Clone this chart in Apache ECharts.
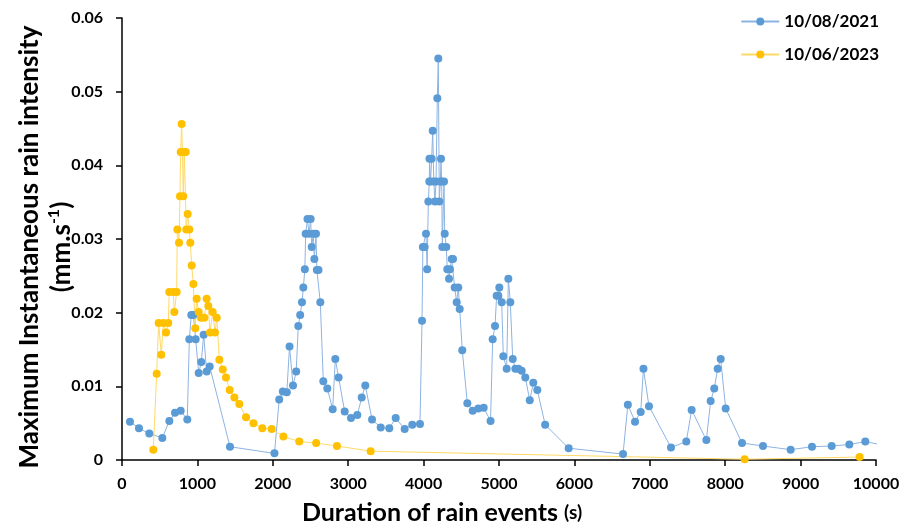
<!DOCTYPE html>
<html>
<head>
<meta charset="utf-8">
<script src="https://cdn.jsdelivr.net/npm/echarts@6/dist/echarts.min.js"></script>
<style>html,body{margin:0;padding:0;background:#fff}#c{width:910px;height:529px}</style>
</head>
<body>
<div id="c"></div>
<script>
const seriesNames = ['10/08/2021', '10/06/2023'];
const xTicks = [0, 1000, 2000, 3000, 4000, 5000, 6000, 7000, 8000, 9000, 10000];
const yTicks = [0, 0.01, 0.02, 0.03, 0.04, 0.05, 0.06];
const series2021 = [[106,0.0052],[225,0.0043],[362,0.0036],[535,0.0030],[628,0.0053],[703,0.0064],[778,0.0067],[866,0.0055],[893,0.0164],[919,0.0197],[946,0.0197],[977,0.0164],[1017,0.0118],[1052,0.0133],[1083,0.0170],[1123,0.0120],[1163,0.0127],[1432,0.0018],[2022,0.0009],[2085,0.0082],[2133,0.0093],[2186,0.0092],[2222,0.0154],[2268,0.0101],[2310,0.0120],[2338,0.0182],[2363,0.0197],[2387,0.0214],[2405,0.0234],[2425,0.0259],[2436,0.0307],[2460,0.0327],[2480,0.0307],[2502,0.0327],[2516,0.0289],[2537,0.0307],[2551,0.0273],[2573,0.0307],[2584,0.0258],[2606,0.0258],[2630,0.0214],[2670,0.0107],[2723,0.0097],[2794,0.0069],[2829,0.0137],[2873,0.0112],[2953,0.0066],[3037,0.0057],[3121,0.0061],[3179,0.0085],[3227,0.0101],[3316,0.0055],[3431,0.0044],[3545,0.0043],[3630,0.0057],[3749,0.0042],[3850,0.0048],[3952,0.0049],[3979,0.0189],[3990,0.0289],[4014,0.0289],[4032,0.0307],[4047,0.0259],[4063,0.0351],[4076,0.0378],[4078,0.0409],[4092,0.0378],[4107,0.0409],[4121,0.0447],[4135,0.0378],[4151,0.0351],[4165,0.0378],[4182,0.0491],[4195,0.0545],[4208,0.0351],[4222,0.0378],[4231,0.0409],[4240,0.0378],[4248,0.0289],[4271,0.0378],[4280,0.0307],[4301,0.0289],[4314,0.0259],[4337,0.0246],[4350,0.0259],[4373,0.0273],[4390,0.0273],[4412,0.0234],[4439,0.0214],[4460,0.0234],[4479,0.0205],[4513,0.0149],[4580,0.0077],[4651,0.0067],[4726,0.0070],[4797,0.0071],[4888,0.0053],[4916,0.0164],[4947,0.0182],[4969,0.0223],[4991,0.0223],[5004,0.0234],[5036,0.0214],[5057,0.0141],[5102,0.0124],[5124,0.0246],[5150,0.0214],[5182,0.0137],[5217,0.0124],[5257,0.0124],[5301,0.0121],[5349,0.0112],[5408,0.0081],[5455,0.0105],[5508,0.0095],[5612,0.0048],[5924,0.0016],[6645,0.0008],[6709,0.0075],[6804,0.0052],[6879,0.0065],[6916,0.0124],[6989,0.0073],[7281,0.0017],[7484,0.0025],[7555,0.0068],[7750,0.0027],[7807,0.0080],[7855,0.0097],[7900,0.0124],[7940,0.0137],[8006,0.0070],[8223,0.0023],[8501,0.0019],[8868,0.0014],[9151,0.0018],[9412,0.0019],[9646,0.0021],[9858,0.0025],[10150,0.0019]];
const series2023 = [[415,0.0014],[460,0.0117],[486,0.0186],[521,0.0143],[548,0.0186],[584,0.0173],[614,0.0186],[627,0.0228],[680,0.0228],[694,0.0201],[725,0.0228],[734,0.0313],[756,0.0295],[769,0.0358],[778,0.0418],[791,0.0456],[802,0.0418],[813,0.0358],[826,0.0418],[845,0.0418],[852,0.0313],[871,0.0334],[893,0.0313],[906,0.0295],[924,0.0264],[946,0.0239],[972,0.0179],[990,0.0219],[1017,0.0201],[1048,0.0193],[1092,0.0193],[1123,0.0219],[1145,0.0209],[1167,0.0173],[1203,0.0201],[1233,0.0173],[1256,0.0193],[1291,0.0136],[1336,0.0123],[1379,0.0112],[1428,0.0095],[1490,0.0085],[1556,0.0076],[1645,0.0058],[1743,0.0050],[1861,0.0043],[1985,0.0042],[2140,0.0032],[2351,0.0025],[2575,0.0023],[2851,0.0019],[3298,0.0012],[8258,0.0001],[9783,0.0004]];

const FONT = 'Lato';
const chart = echarts.init(document.getElementById('c'));
chart.setOption({
  backgroundColor: '#fff',
  animation: false,
  textStyle: { fontFamily: FONT },
  grid: { left: 122, right: 34, top: 18, bottom: 69, containLabel: false, outerBoundsMode: 'none' },
  legend: {
    orient: 'vertical', right: 26, top: 8, itemGap: 16,
    itemWidth: 38, itemHeight: 10,
    textStyle: { fontFamily: FONT, fontWeight: 'bold', fontSize: 17, color: '#000' },
    data: seriesNames
  },
  xAxis: {
    type: 'value', min: xTicks[0], max: xTicks[xTicks.length - 1], interval: 1000,
    name: 'Duration of rain events {s|(s)}',
    nameLocation: 'middle', nameGap: 40,
    nameTextStyle: { fontFamily: FONT, fontWeight: 'bold', fontSize: 25, color: '#000',
      padding: [0, 114, 0, 0],
      rich: { s: { fontFamily: FONT, fontWeight: 'bold', fontSize: 19, color: '#000' } } },
    axisLine: { show: true, lineStyle: { color: '#000', width: 1.5 } },
    axisTick: { show: true, length: 6, lineStyle: { color: '#000', width: 1.5 } },
    axisLabel: { fontFamily: FONT, fontWeight: 'bold', fontSize: 16, color: '#000', margin: 16,
      formatter: v => String(v) },
    splitLine: { show: false }
  },
  yAxis: {
    type: 'value', min: yTicks[0], max: yTicks[yTicks.length - 1], interval: 0.01,
    name: 'Maximum Instantaneous rain intensity\n(mm.s{sup|-1})',
    nameLocation: 'middle', nameGap: 44, nameRotate: 90, nameMoveOverlap: false,
    nameTextStyle: { fontFamily: FONT, fontWeight: 'bold', fontSize: 26, color: '#000', lineHeight: 32,
      padding: [0, 16, 0, 0],
      rich: { sup: { fontFamily: FONT, fontWeight: 'bold', fontSize: 16, color: '#000', verticalAlign: 'top', padding: [0, 0, 12, 0] } } },
    axisLine: { show: true, lineStyle: { color: '#000', width: 1.5 } },
    axisTick: { show: true, inside: false, length: 6, lineStyle: { color: '#000', width: 1.5 } },
    axisLabel: { fontFamily: FONT, fontWeight: 'bold', fontSize: 16, color: '#000', margin: 19,
      formatter: v => String(v) },
    splitLine: { show: false }
  },
  series: [
    {
      name: seriesNames[0], type: 'line', data: series2021,
      symbol: 'circle', symbolSize: 8, clip: true,
      itemStyle: { color: '#5B9BD5' },
      lineStyle: { color: '#8DB3E2', width: 1 }
    },
    {
      name: seriesNames[1], type: 'line', data: series2023,
      symbol: 'circle', symbolSize: 8, clip: true,
      itemStyle: { color: '#FFC000' },
      lineStyle: { color: '#FFD966', width: 1 }
    }
  ]
});
</script>
</body>
</html>
